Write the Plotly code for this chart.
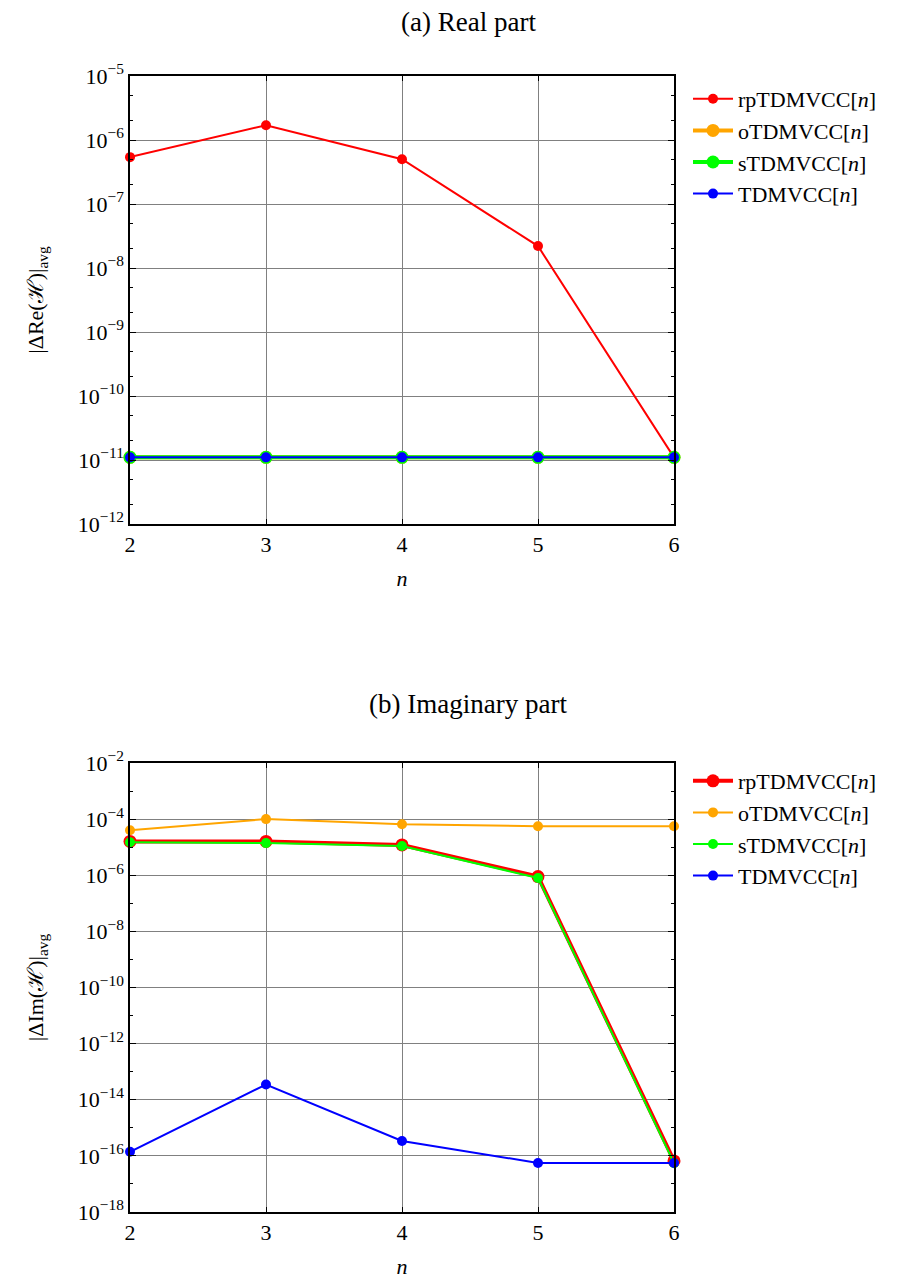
import plotly.graph_objects as go

n_vals = [2, 3, 4, 5, 6]
names = ["rpTDMVCC[<i>n</i>]", "oTDMVCC[<i>n</i>]", "sTDMVCC[<i>n</i>]", "TDMVCC[<i>n</i>]"]
colors = ["#ff0000", "#ffa500", "#00ff00", "#0000ff"]

# (a) real part
re_rp = [5.4e-7, 1.7e-6, 5.0e-7, 2.2e-8, 1.1e-11]
re_o = [1.1e-11, 1.1e-11, 1.1e-11, 1.1e-11, 1.1e-11]
re_s = [1.1e-11, 1.1e-11, 1.1e-11, 1.1e-11, 1.1e-11]
re_td = [1.1e-11, 1.1e-11, 1.1e-11, 1.1e-11, 1.1e-11]

# (b) imaginary part
im_rp = [1.6e-5, 1.6e-5, 1.2e-5, 9.0e-7, 6.6e-17]
im_o = [4.0e-5, 1.0e-4, 6.6e-5, 5.6e-5, 5.6e-5]
im_s = [1.5e-5, 1.4e-5, 1.1e-5, 8.0e-7, 5.5e-17]
im_td = [1.4e-16, 3.5e-14, 3.4e-16, 5.6e-17, 5.6e-17]

re_widths = [2, 4, 4, 2]
re_msizes = [10, 13, 13, 10]
im_widths = [4, 2, 2, 2]
im_msizes = [13, 10, 10, 10]

FONT = "Liberation Serif"
W, H = 916, 1281

fig = go.Figure()

for i, ys in enumerate([re_rp, re_o, re_s, re_td]):
    fig.add_trace(go.Scatter(
        x=n_vals, y=ys, name=names[i], mode="lines+markers",
        line=dict(color=colors[i], width=re_widths[i]),
        marker=dict(color=colors[i], size=re_msizes[i]),
        xaxis="x", yaxis="y", legend="legend", cliponaxis=False))

for i, ys in enumerate([im_rp, im_o, im_s, im_td]):
    fig.add_trace(go.Scatter(
        x=n_vals, y=ys, name=names[i], mode="lines+markers",
        line=dict(color=colors[i], width=im_widths[i]),
        marker=dict(color=colors[i], size=im_msizes[i]),
        xaxis="x2", yaxis="y2", legend="legend2", cliponaxis=False))


def sup(e):
    return "10<sup>\u2212%d</sup>" % e


xdom = [130 / W, 674 / W]
xcommon = dict(
    range=[2, 6], tickvals=n_vals, ticktext=[str(v) for v in n_vals],
    showgrid=True, gridcolor="#808080", gridwidth=1,
    showline=True, linecolor="black", linewidth=1.5, mirror="allticks",
    ticks="inside", ticklen=5, tickcolor="black",
    tickfont=dict(family=FONT, size=22, color="black"),
    zeroline=False, domain=xdom, automargin=False)

ycommon = dict(
    type="log", showgrid=True, gridcolor="#808080", gridwidth=1,
    showline=True, linecolor="black", linewidth=1.5, mirror="allticks",
    ticks="inside", ticklen=6, tickcolor="black",
    tickfont=dict(family=FONT, size=22, color="black"),
    zeroline=False, automargin=False,
    minor=dict(ticks="inside", ticklen=3, tickcolor="black", showgrid=False))

top_exps = list(range(5, 13))
bot_exps = list(range(2, 19, 2))

fig.update_layout(
    width=W, height=H,
    margin=dict(l=0, r=0, t=0, b=0),
    paper_bgcolor="white", plot_bgcolor="white",
    font=dict(family=FONT, size=20, color="black"),
    xaxis=dict(xcommon, anchor="y",
               title=dict(text="<i>n</i>", font=dict(family=FONT, size=22), standoff=14)),
    yaxis=dict(ycommon, anchor="x", range=[-12, -5],
               domain=[1 - 524 / H, 1 - 76 / H],
               tickvals=[10 ** (-e) for e in top_exps],
               ticktext=[sup(e) for e in top_exps],
               title=dict(text="|\u0394Re(\u210b)|<sub>avg</sub>", font=dict(family=FONT, size=22), standoff=28)),
    xaxis2=dict(xcommon, anchor="y2",
                title=dict(text="<i>n</i>", font=dict(family=FONT, size=22), standoff=14)),
    yaxis2=dict(ycommon, anchor="x2", range=[-18, -2],
                domain=[1 - 1212 / H, 1 - 763 / H],
                tickvals=[10 ** (-e) for e in bot_exps],
                ticktext=[sup(e) for e in bot_exps],
                title=dict(text="|\u0394Im(\u210b)|<sub>avg</sub>", font=dict(family=FONT, size=22), standoff=28)),
    legend=dict(x=688 / W, y=1 - 78 / H, xanchor="left", yanchor="top",
                bgcolor="rgba(0,0,0,0)", font=dict(family=FONT, size=22),
                itemwidth=40, tracegroupgap=0),
    legend2=dict(x=688 / W, y=1 - 760 / H, xanchor="left", yanchor="top",
                 bgcolor="rgba(0,0,0,0)", font=dict(family=FONT, size=22),
                 itemwidth=40, tracegroupgap=0),
    annotations=[
        dict(text="(a) Real part", x=468 / W, y=1 - 22 / H,
             xref="paper", yref="paper", showarrow=False,
             xanchor="center", yanchor="middle",
             font=dict(family=FONT, size=27)),
        dict(text="(b) Imaginary part", x=468 / W, y=1 - 704 / H,
             xref="paper", yref="paper", showarrow=False,
             xanchor="center", yanchor="middle",
             font=dict(family=FONT, size=27)),
    ],
)

fig.write_html("out.html")
